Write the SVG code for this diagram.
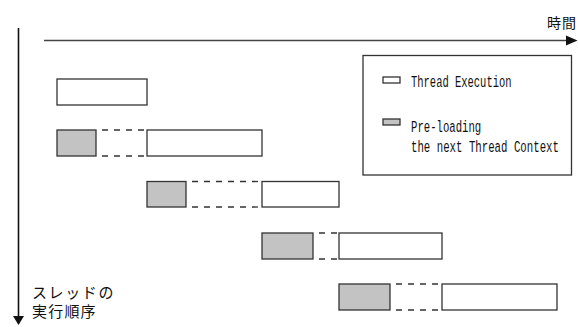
<svg xmlns="http://www.w3.org/2000/svg" width="578" height="327" viewBox="0 0 578 327">
<style>
.ex{fill:#ffffff;stroke:#333333;stroke-width:1.3}
.pl{fill:#c3c3c3;stroke:#333333;stroke-width:1.3}
.dash{stroke:#333333;stroke-width:1.3;stroke-dasharray:6 6;stroke-dashoffset:6;fill:none}
.mono{font-family:"Liberation Mono","DejaVu Sans Mono",monospace;font-size:16.5px;fill:#111111}
.jp{font-family:"Noto Sans CJK JP",sans-serif;fill:#111111}
</style>
<rect width="578" height="327" fill="#ffffff"/>
<g id="connectors">
<line x1="44" y1="40.5" x2="568" y2="40.5" stroke="#444444" stroke-width="1.6"/>
<polygon points="566,35.5 577.5,40.5 566,45.5" fill="#111111"/>
<line x1="18.5" y1="28" x2="18.5" y2="318" stroke="#111111" stroke-width="1.6"/>
<polygon points="13,316 24,316 18.5,325" fill="#111111"/>
</g>
<g id="time-label"><text class="jp" x="577" y="28" font-size="14" letter-spacing="1" text-anchor="end">時間</text></g>
<g id="order-label">
<text class="jp" x="32" y="298" font-size="15" letter-spacing="1.6">スレッドの</text>
<text class="jp" x="32" y="317" font-size="15" letter-spacing="1.2">実行順序</text>
</g>
<g id="legend">
<rect x="363" y="55.5" width="208.5" height="119.5" fill="#ffffff" stroke="#333333" stroke-width="1.3"/>
<rect class="ex" x="383" y="77" width="17" height="6"/>
<text class="mono" transform="translate(411,87) scale(0.635,1)">Thread Execution</text>
<rect class="pl" x="383" y="119" width="17" height="6"/>
<text class="mono" transform="translate(411,132) scale(0.645,1)">Pre-loading</text>
<text class="mono" transform="translate(411,152) scale(0.65,1)">the next Thread Context</text>
</g>
<g id="thread1">
<rect class="ex" x="57" y="79" width="90" height="26"/>
</g>
<g id="thread2">
<rect class="pl" x="57" y="130" width="39" height="26"/>
<line class="dash" x1="96" y1="130" x2="147" y2="130"/>
<line class="dash" x1="96" y1="156" x2="147" y2="156"/>
<rect class="ex" x="147" y="130" width="115" height="26"/>
</g>
<g id="thread3">
<rect class="pl" x="147" y="181.5" width="39" height="25.5"/>
<line class="dash" x1="186" y1="181.5" x2="262" y2="181.5"/>
<line class="dash" x1="186" y1="207" x2="262" y2="207"/>
<rect class="ex" x="262" y="181.5" width="77" height="25.5"/>
</g>
<g id="thread4">
<rect class="pl" x="262" y="233" width="51" height="26"/>
<line class="dash" x1="313" y1="233" x2="339" y2="233"/>
<line class="dash" x1="313" y1="259" x2="339" y2="259"/>
<rect class="ex" x="339" y="233" width="103" height="26"/>
</g>
<g id="thread5">
<rect class="pl" x="339" y="284" width="51" height="26"/>
<line class="dash" x1="390" y1="284" x2="442" y2="284"/>
<line class="dash" x1="390" y1="310" x2="442" y2="310"/>
<rect class="ex" x="442" y="284" width="115" height="26"/>
</g>
</svg>
